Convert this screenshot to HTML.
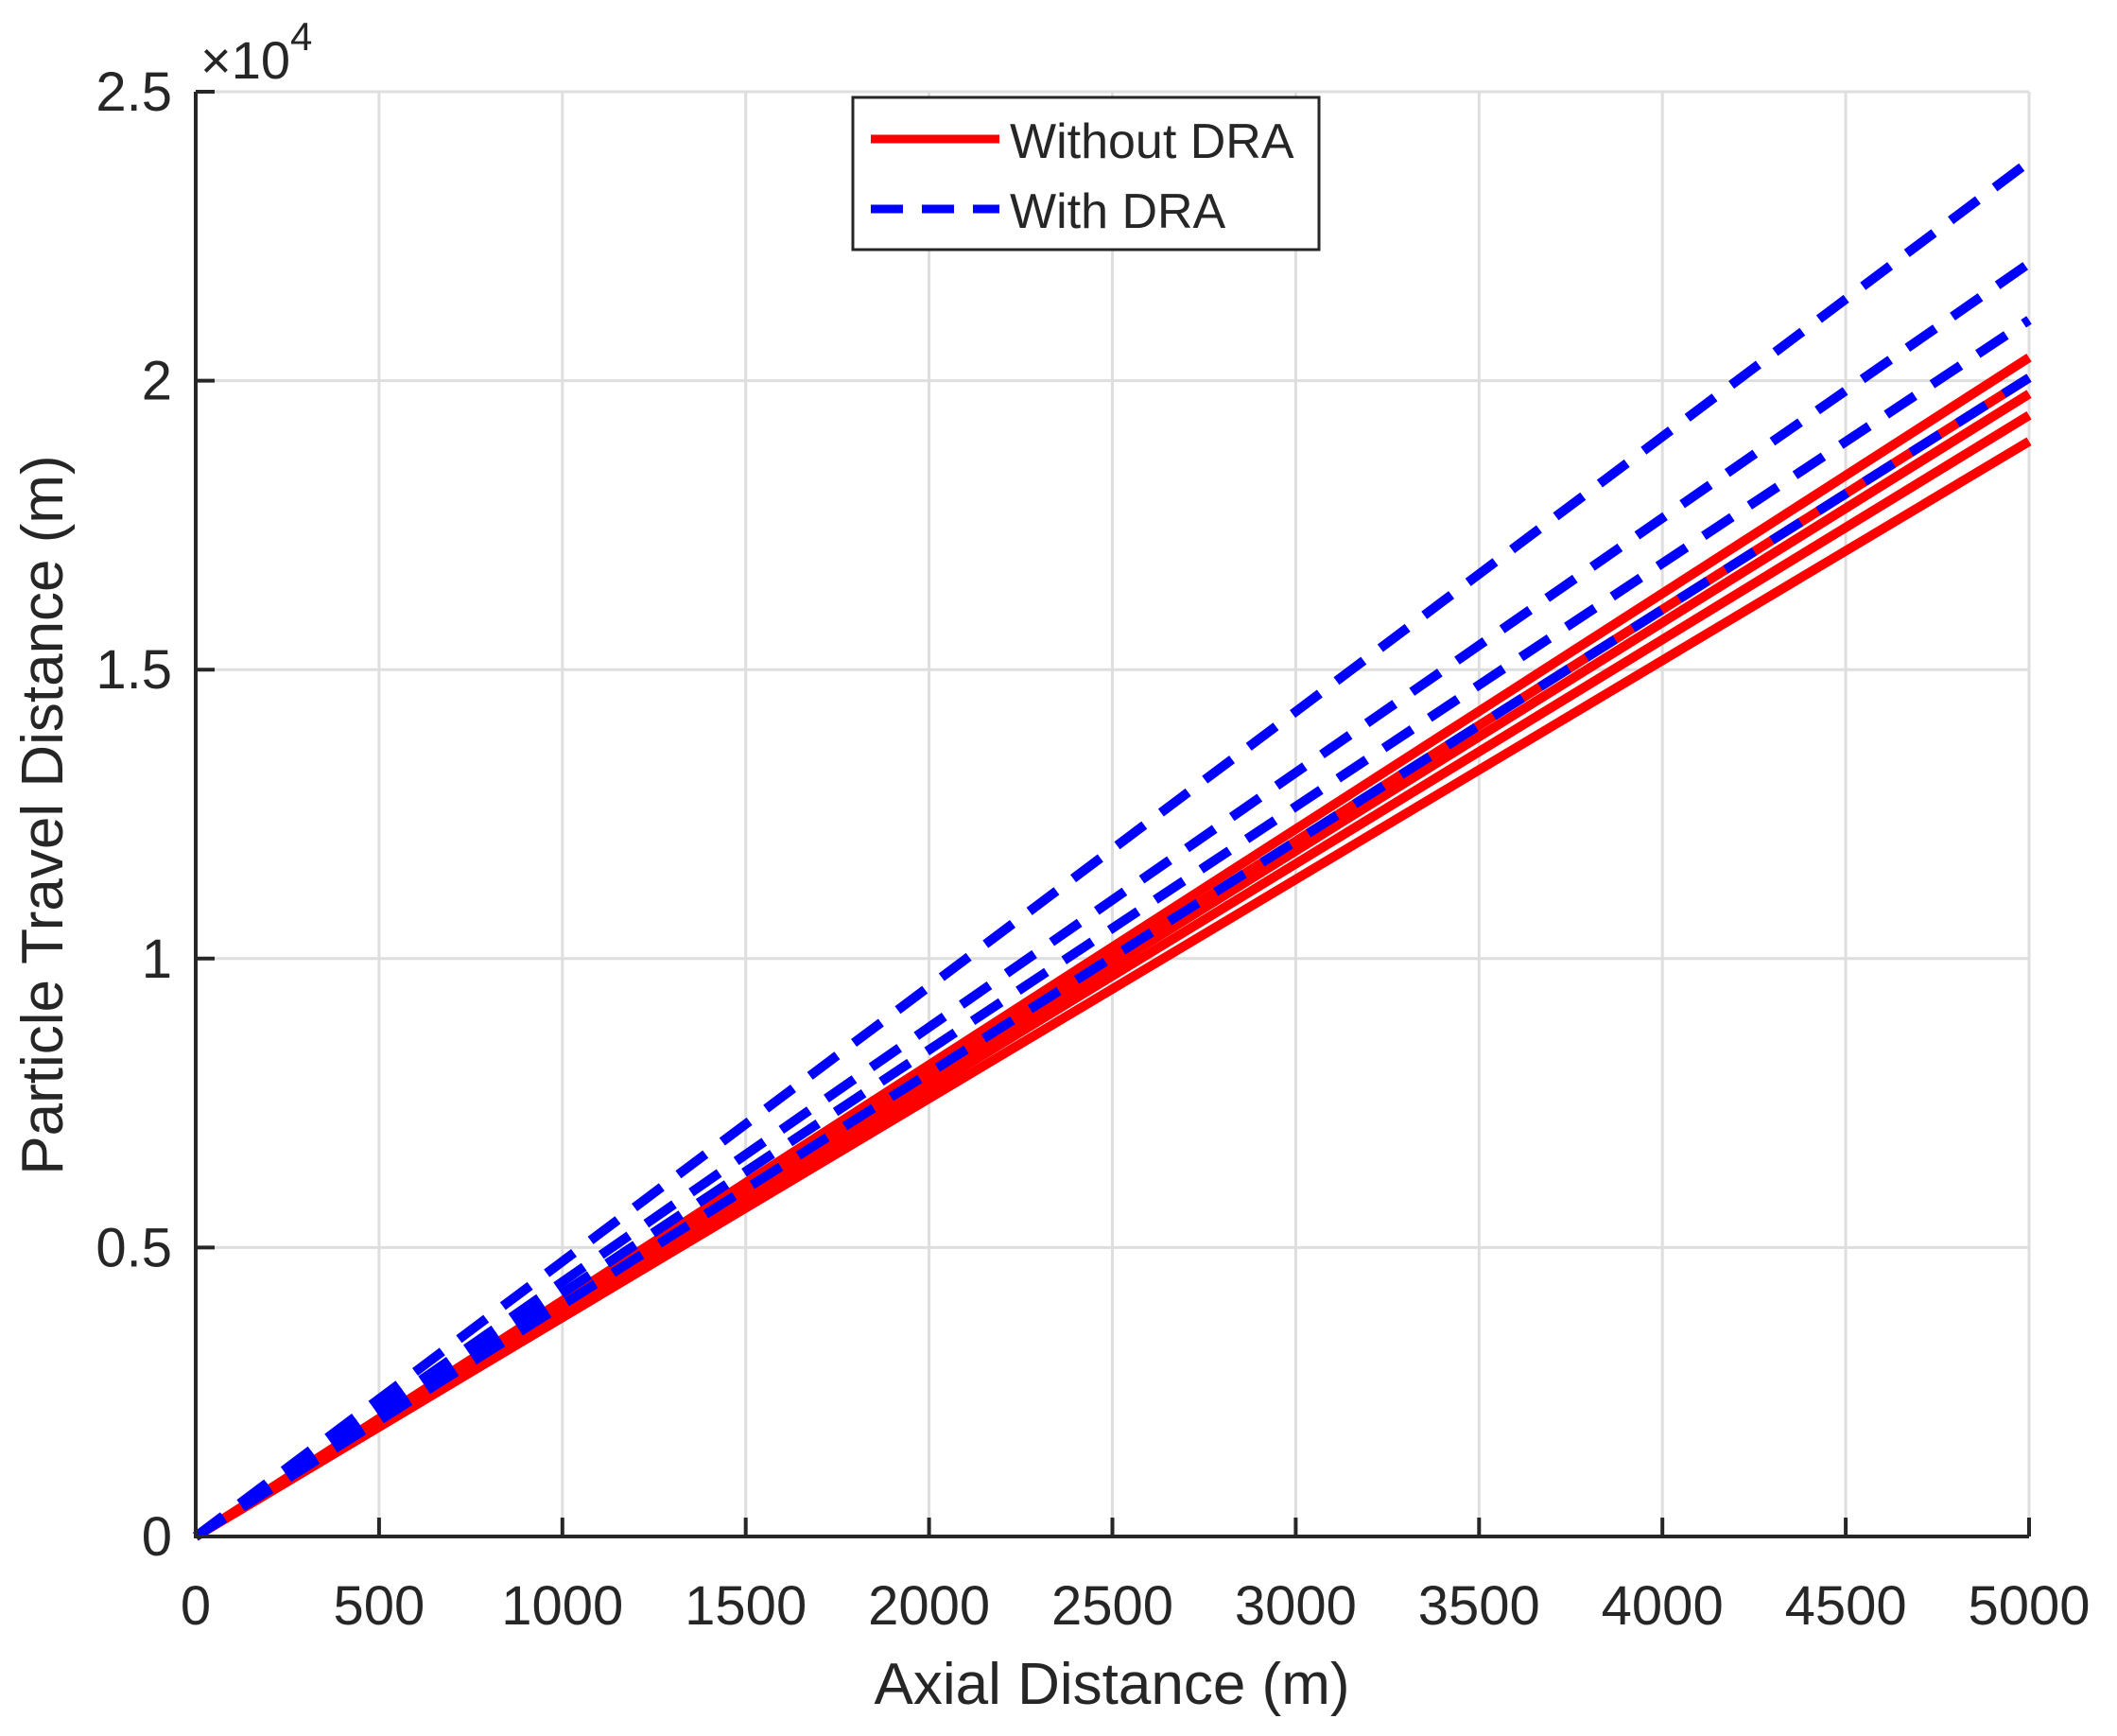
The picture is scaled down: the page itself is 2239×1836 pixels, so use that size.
<!DOCTYPE html>
<html><head><meta charset="utf-8"><style>body{margin:0;background:#fff}svg{display:block}text{font-family:"Liberation Sans",sans-serif;fill:#262626}</style></head>
<body>
<svg id="chart" width="2239" height="1836" viewBox="0 0 2239 1836" xmlns="http://www.w3.org/2000/svg">
<g id="grid"></g>
<g id="series"></g>
<g id="axes"></g>
<text x="212" y="83" font-size="56">×10<tspan font-size="42" dy="-30">4</tspan></text>
<text transform="translate(66,862) rotate(-90)" text-anchor="middle" font-size="62">Particle Travel Distance (m)</text>
<text x="1176" y="1802" text-anchor="middle" font-size="62">Axial Distance (m)</text>
<g>
<rect x="902" y="103" width="493" height="161" fill="#fff" stroke="#262626" stroke-width="3"/>
<line x1="921" y1="147" x2="1057" y2="147" stroke="#ff0000" stroke-width="9"/>
<text x="1068" y="167" font-size="52">Without DRA</text>
<line x1="921" y1="221" x2="1057" y2="221" stroke="#0000ff" stroke-width="9" stroke-dasharray="34 20"/>
<text x="1068" y="241" font-size="52">With DRA</text>
</g>
</svg>
<script>
const xTicks=[0,500,1000,1500,2000,2500,3000,3500,4000,4500,5000];
const yTicks=[0,0.5,1,1.5,2,2.5];
const yTickLabels=["0","0.5","1","1.5","2","2.5"];
const xData=[0,5000];
const redEnds=[2.04,2.005,1.977,1.94,1.895];
const blueEnds=[2.379,2.203,2.105,2.005];
const L=207,R=2146,T=97,B=1625;
const sx=v=>L+(v-0)/(5000)*(R-L);
const sy=v=>B-(v/2.5)*(B-T);
const NS="http://www.w3.org/2000/svg";
function mk(tag,parent,attrs){const e=document.createElementNS(NS,tag);for(const k in attrs)e.setAttribute(k,attrs[k]);parent.appendChild(e);return e;}
const grid=document.getElementById('grid'),axes=document.getElementById('axes'),series=document.getElementById('series');
xTicks.forEach(v=>{
 const g=mk('line',grid,{x1:sx(v),x2:sx(v),y1:T,y2:B,stroke:'#dedede','stroke-width':3});
 
 
 const t=mk('line',axes,{x1:sx(v),x2:sx(v),y1:B,y2:B-20,stroke:'#262626','stroke-width':4});
 
 
 const l=mk('text',axes,{x:sx(v),y:B+93,'text-anchor':'middle','font-size':58});
 l.textContent=String(v);
 
 
});
yTicks.forEach((v,i)=>{
 const g=mk('line',grid,{x1:L,x2:R,y1:sy(v),y2:sy(v),stroke:'#dedede','stroke-width':3});
 
 
 const t=mk('line',axes,{x1:L,x2:L+20,y1:sy(v),y2:sy(v),stroke:'#262626','stroke-width':4});
 
 
 const l=mk('text',axes,{x:L-25,y:sy(v)+20,'text-anchor':'end','font-size':58});
 l.textContent=yTickLabels[i];
 
 
});
const ax=mk('path',axes,{d:`M${L},${T}V${B}H${R}`,fill:'none',stroke:'#262626','stroke-width':4});


redEnds.forEach(e=>{
 const ys=[0,e];
 const p=mk('polyline',series,{points:xData.map((x,i)=>sx(x)+','+sy(ys[i])).join(' '),fill:'none',stroke:'#ff0000','stroke-width':10});
 
 
});
blueEnds.forEach(e=>{
 const ys=[0,e];
 const p=mk('polyline',series,{points:xData.map((x,i)=>sx(x)+','+sy(ys[i])).join(' '),fill:'none',stroke:'#0000ff','stroke-width':10,'stroke-dasharray':'36 22'});
 
 
});
</script>
</body></html>
